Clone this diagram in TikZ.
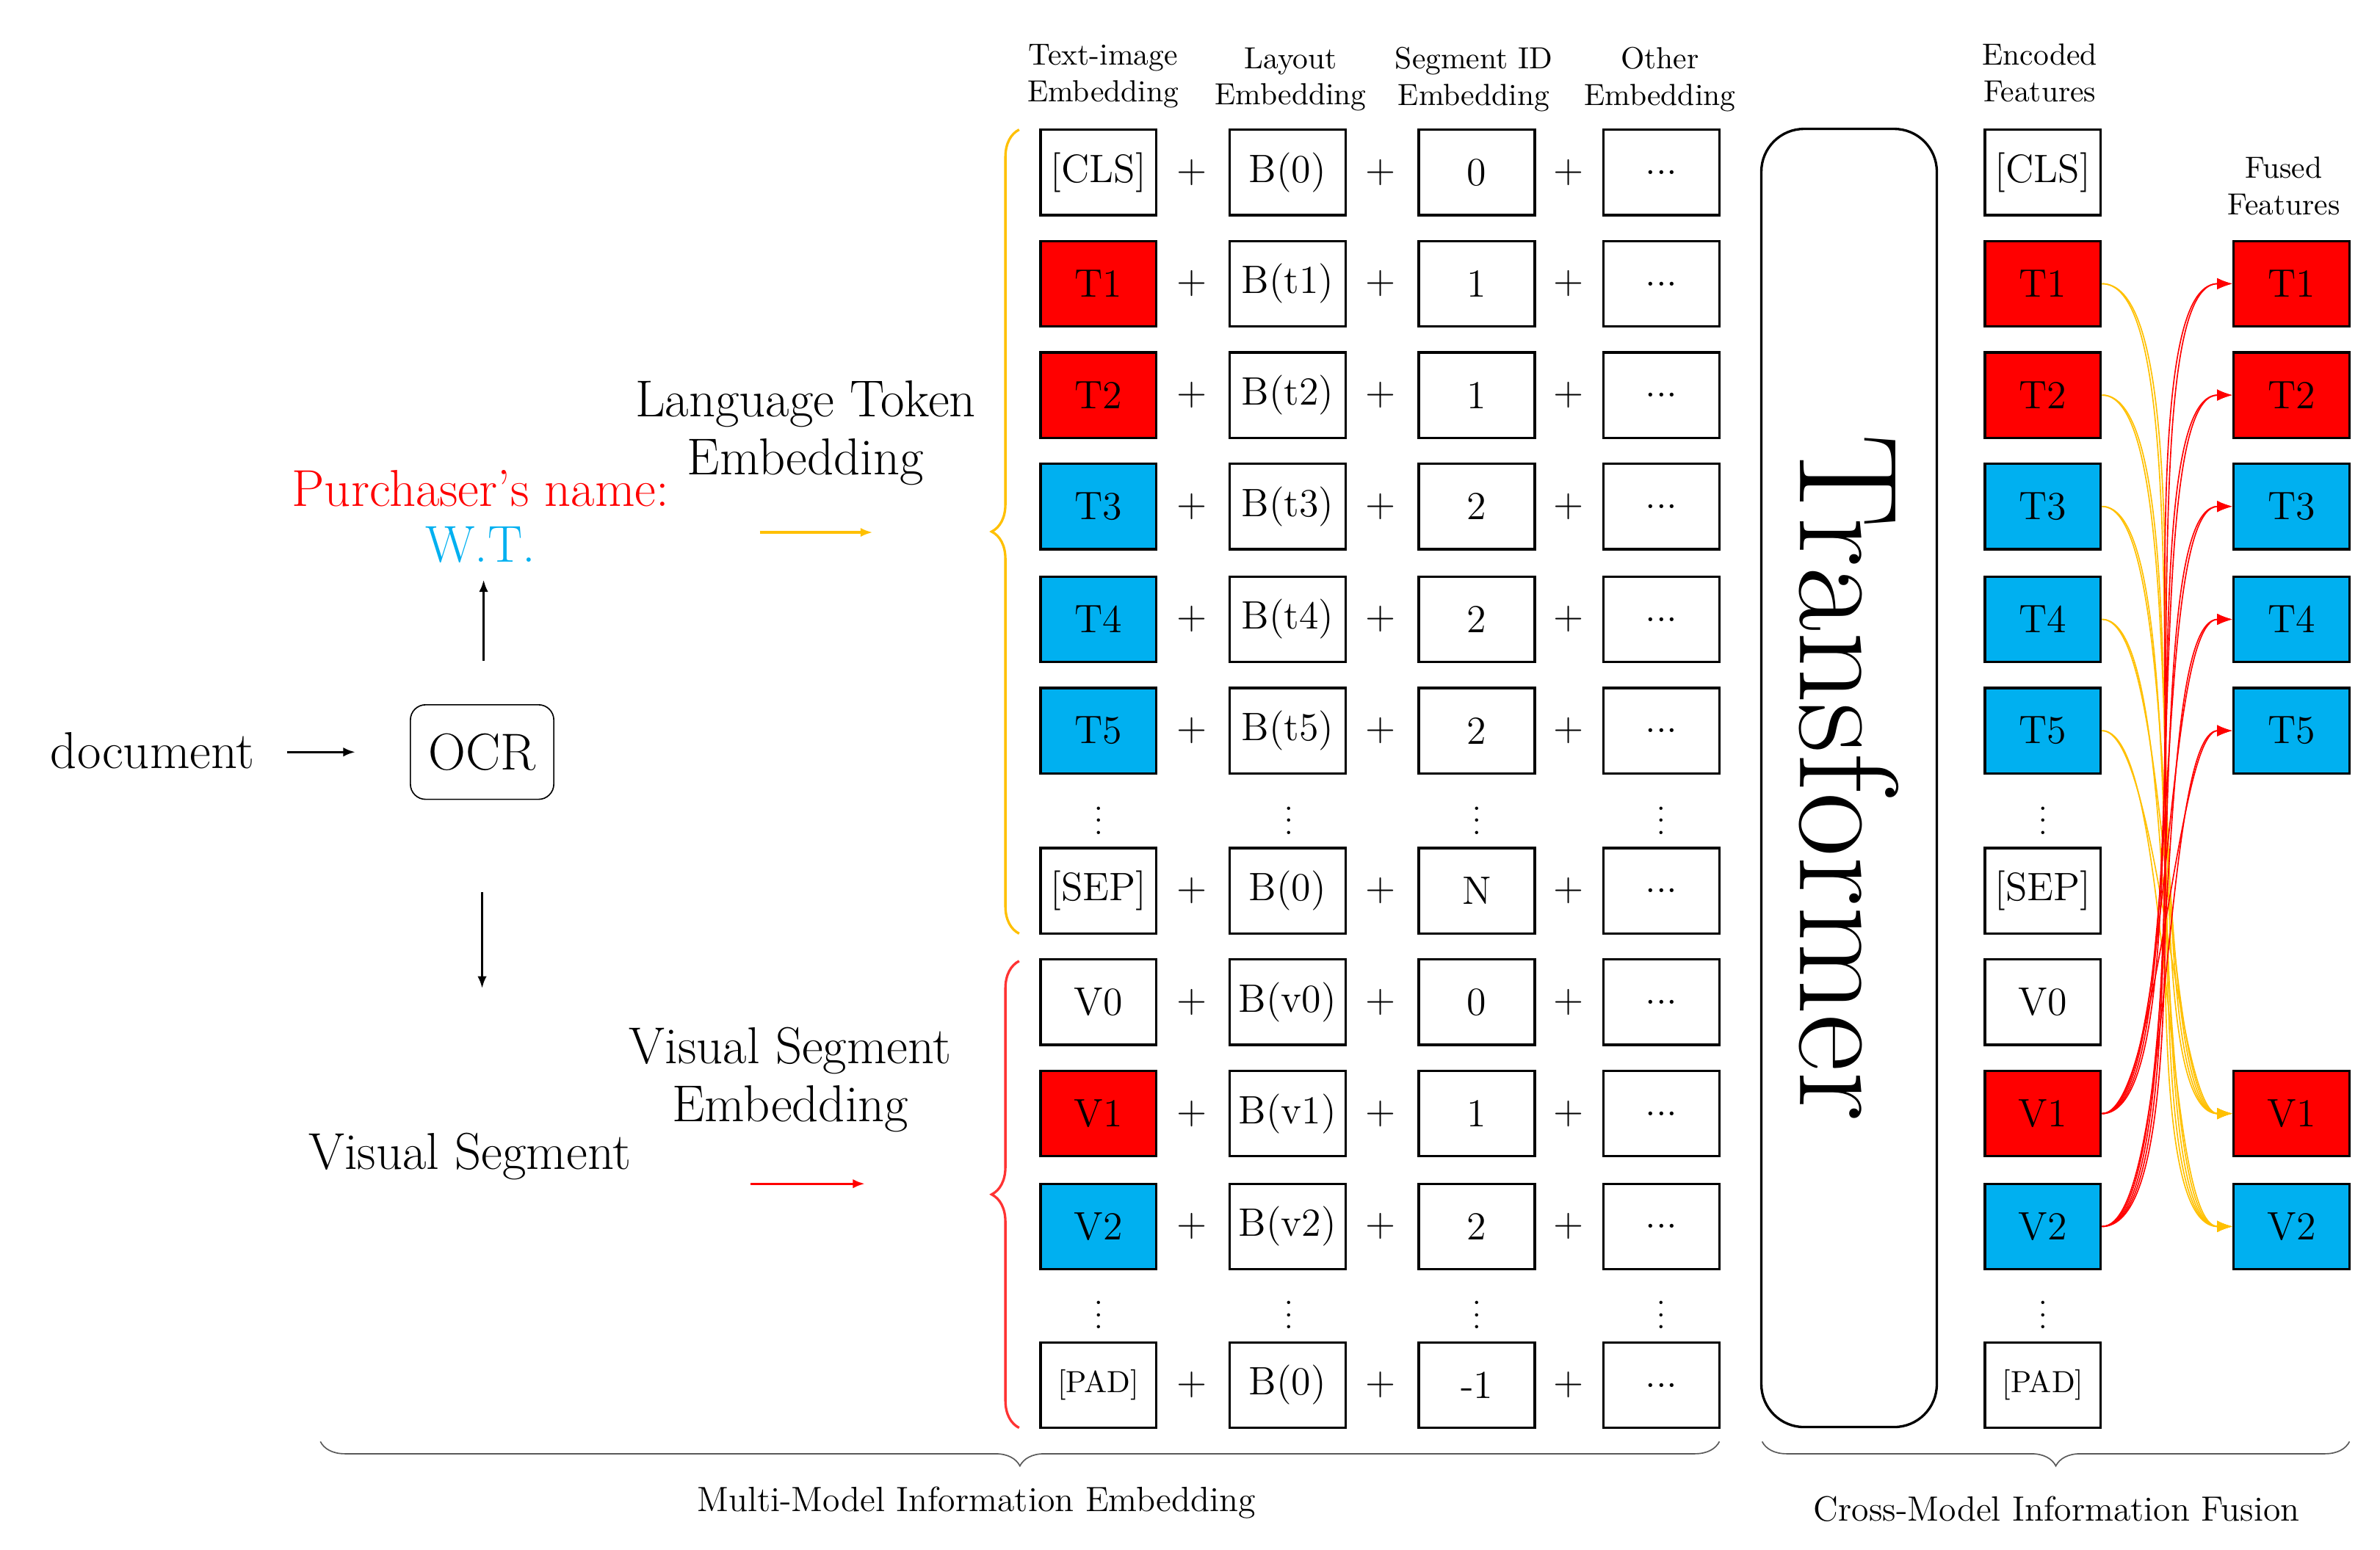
\documentclass[tikz,border=0pt]{standalone}
\usepackage{tikz}
\usetikzlibrary{decorations.pathreplacing,arrows.meta}
\definecolor{tred}{RGB}{255,0,0}
\definecolor{tblue}{RGB}{0,176,240}
\definecolor{tyellow}{RGB}{255,192,0}
\tikzset{
  emb/.style={draw,thick,minimum width=38pt,minimum height=28pt,inner sep=0pt,font=\fontsize{13}{15}\selectfont},
  red box/.style={emb,fill=tred},
  blue box/.style={emb,fill=tblue},
  head/.style={align=center,font=\fontsize{10}{12}\selectfont},
  big/.style={font=\fontsize{17}{19}\selectfont,align=center},
  plus/.style={font=\fontsize{13}{15}\selectfont},
  vdots/.style={font=\fontsize{10}{11}\selectfont,inner sep=0pt},
  arr/.style={-{Latex[length=4pt]},thick}
}
\begin{document}
\begin{tikzpicture}[x=0.5pt,y=-0.5pt]
\useasboundingbox (0,0) rectangle (1560,1016);

% headers
\node[head] at (723,50) {Text-image\\Embedding};
\node[head] at (846,52) {Layout\\Embedding};
\node[head] at (966,52) {Segment ID\\Embedding};
\node[head] at (1088,52) {Other\\Embedding};
\node[head] at (1337,48) {Encoded\\Features};
\node[head] at (1497,122) {Fused\\Features};

% embedding rows: y / token / style / layout / segment
\foreach \y/\tok/\st/\lay/\seg/\n in {113/[CLS]/emb/B(0)/0/cls, 186/T1/red box/B(t1)/1/t1, 259/T2/red box/B(t2)/1/t2,
    332/T3/blue box/B(t3)/2/t3, 406/T4/blue box/B(t4)/2/t4, 479/T5/blue box/B(t5)/2/t5,
    584/[SEP]/emb/B(0)/N/sep, 657/V0/emb/B(v0)/0/v0, 730/V1/red box/B(v1)/1/v1,
    804/V2/blue box/B(v2)/2/v2, 908/{\fontsize{10}{12}\selectfont[PAD]}/emb/B(0)/-1/pad}{
  \node[\st] (tok-\n) at (720,\y) {\tok};
  \node[emb] (lay-\n) at (844,\y) {\lay};
  \node[emb] (seg-\n) at (968,\y) {\seg};
  \node[emb] (oth-\n) at (1089,\y) {...};
  \node[plus] at (781,\y) {+};
  \node[plus] at (905,\y) {+};
  \node[plus] at (1028,\y) {+};
  \node[\st] (enc-\n) at (1339,\y) {\tok};
}
\foreach \y in {532,856}{
  \foreach \x in {720,845,968,1089,1339}
    \node[vdots] at (\x,\y) {$\vdots$};
}

% fused features
\foreach \y/\tok/\st/\n in {186/T1/red box/t1, 259/T2/red box/t2, 332/T3/blue box/t3,
    406/T4/blue box/t4, 479/T5/blue box/t5, 730/V1/red box/v1, 804/V2/blue box/v2}
  \node[\st] (fus-\n) at (1502,\y) {\tok};

% transformer
\node[draw,thick,rounded corners=14pt,minimum width=57.5pt,minimum height=425.5pt] (trans) at (1212,510) {};
\node[rotate=-90,font=\fontsize{46}{50}\selectfont] at (trans.center) {Transformer};

% fusion connectors
\foreach \s in {t1,t2,t3,t4,t5}{
  \foreach \t in {v1,v2}
    \draw[tyellow,-{Latex[length=5pt]}] (enc-\s.east) to[out=0,in=180,looseness=0.35] (fus-\t.west);
}
\foreach \s in {v1,v2}{
  \foreach \t in {t1,t2,t3,t4,t5}
    \draw[tred,-{Latex[length=5pt]}] (enc-\s.east) to[out=0,in=180,looseness=0.35] (fus-\t.west);
}

% left part
\node[big] (doc) at (100,492) {document};
\node[draw,rounded corners=5pt,minimum width=47pt,minimum height=31pt,big] (ocr) at (316,493) {OCR};
\coordinate (doc-e) at (188,493);
\coordinate (ocr-w) at (233,493);
\draw[arr] (doc-e) -- (ocr-w);
\node[big,text=tred] (name) at (315,320) {Purchaser's name:};
\node[big,text=tblue] (wt) at (315,357) {W.T.};
\coordinate (up-s) at (317,433);
\coordinate (up-e) at (317,380);
\draw[arr] (up-s) -- (up-e);
\coordinate (dn-s) at (316,585);
\coordinate (dn-e) at (316,648);
\draw[arr] (dn-s) -- (dn-e);
\node[big] (vis) at (308,758) {Visual Segment};
\node[big] (lte) at (528,284) {Language Token\\Embedding};
\node[big] (vse) at (518,708) {Visual Segment\\Embedding};
\coordinate (ya-s) at (498,349);
\coordinate (ya-e) at (572,349);
\draw[arr,tyellow] (ya-s) -- (ya-e);
\coordinate (ra-s) at (492,776);
\coordinate (ra-e) at (567,776);
\draw[arr,tred] (ra-s) -- (ra-e);

% braces
\draw[tyellow,thick,decorate,decoration={brace,amplitude=9pt,aspect=0.5}] (668,612) -- (668,85);
\draw[tred!80,thick,decorate,decoration={brace,amplitude=9pt,aspect=0.5}] (668,936) -- (668,630);
\draw[gray!70!black,decorate,decoration={brace,amplitude=8pt,mirror}] (210,945) -- (1127,945);
\draw[gray!70!black,decorate,decoration={brace,amplitude=8pt,mirror}] (1155,945) -- (1540,945);
\node[head,font=\fontsize{11.5}{13}\selectfont] at (640,985) {Multi-Model Information Embedding};
\node[head,font=\fontsize{11.5}{13}\selectfont] at (1348,989) {Cross-Model Information Fusion};
\end{tikzpicture}
\end{document}
